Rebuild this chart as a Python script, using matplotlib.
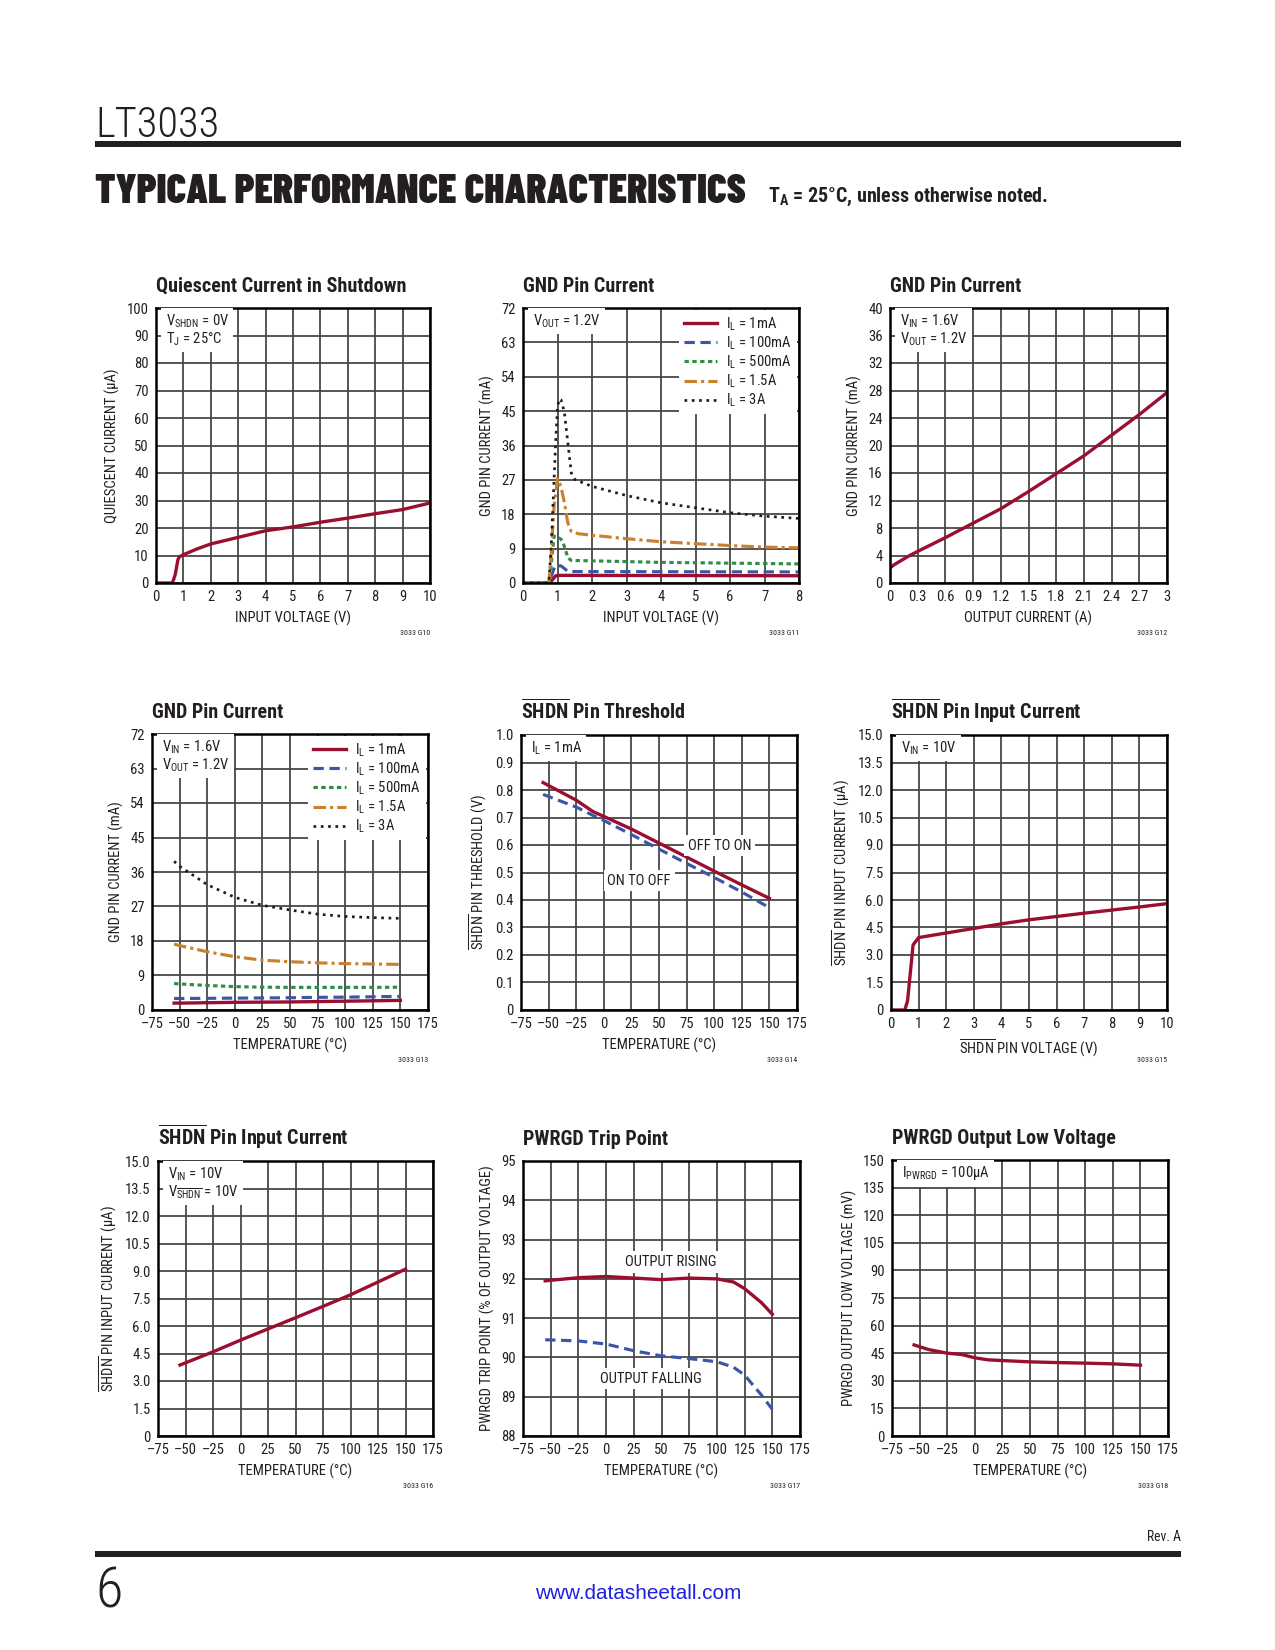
import matplotlib
matplotlib.use("Agg")
import matplotlib.pyplot as plt
from matplotlib import font_manager as fm
from matplotlib.patches import Rectangle

# ---------------- data ----------------
# Quiescent current in shutdown
qs_vin = [0, 0.6, 0.7, 0.8, 0.85, 1.0, 1.5, 2, 3, 4, 5, 6, 7, 8, 9, 10]
qs_iq = [0, 0, 3.0, 8.5, 9.5, 10.3, 12.4, 14.2, 16.6, 19.0, 20.4, 22.1, 23.6, 25.2, 26.7, 29.1]

# GND pin current vs input voltage
gv_vin_1mA = [0, 0.75, 0.85, 0.95, 1.1, 8]
gv_1mA = [0, 0, 0.8, 1.9, 2.0, 1.9]
gv_vin_100mA = [0, 0.75, 0.85, 0.92, 1.1, 1.2, 1.3, 8]
gv_100mA = [0, 0, 2.5, 4.5, 4.5, 3.8, 3.0, 2.9]
gv_vin_500mA = [0, 0.75, 0.82, 0.9, 1.0, 1.1, 1.2, 1.3, 1.4, 2, 3, 4, 5, 6, 7, 8]
gv_500mA = [0, 0, 5.0, 12.3, 12.0, 11.5, 9.6, 6.6, 5.9, 5.8, 5.6, 5.4, 5.3, 5.2, 5.1, 5.0]
gv_vin_1p5A = [0, 0.75, 0.82, 0.9, 1.0, 1.1, 1.2, 1.3, 1.4, 1.6, 2, 3, 4, 5, 6, 7, 8]
gv_1p5A = [0, 0, 8.0, 20.0, 27.3, 25.3, 21.0, 15.7, 13.5, 12.9, 12.5, 11.6, 10.8, 10.3, 9.8, 9.4, 9.2]
gv_vin_3A = [0, 0.75, 0.82, 0.9, 0.95, 1.0, 1.05, 1.1, 1.15, 1.2, 1.3, 1.4, 1.5, 2, 3, 4, 5, 6, 7, 8]
gv_3A = [0, 0, 10.0, 27.0, 37.6, 46.0, 48.2, 48.0, 46.5, 44.6, 36.7, 28.8, 27.1, 25.3, 22.9, 21.0, 19.7, 18.4, 17.5, 16.9]

# GND pin current vs output current
gi_iout = [0, 0.05, 0.1, 0.2, 0.3, 0.6, 0.9, 1.2, 1.5, 1.8, 2.1, 2.4, 2.7, 3.0]
gi_ignd = [2.2, 2.7, 3.1, 3.9, 4.6, 6.6, 8.7, 10.8, 13.3, 15.9, 18.5, 21.5, 24.5, 27.7]

# GND pin current vs temperature
gt_temp = [-55, -50, -25, 0, 25, 50, 75, 100, 125, 150]
gt_1mA = [1.8, 1.8, 1.9, 2.0, 2.05, 2.1, 2.2, 2.3, 2.4, 2.5]
gt_100mA = [3.0, 3.0, 3.05, 3.1, 3.15, 3.2, 3.3, 3.35, 3.45, 3.55]
gt_500mA = [6.9, 6.8, 6.4, 6.1, 5.95, 5.9, 5.9, 5.9, 5.9, 5.95]
gt_1p5A = [17.2, 16.8, 15.2, 13.9, 13.0, 12.6, 12.3, 12.1, 12.0, 11.9]
gt_3A = [38.8, 37.5, 32.7, 29.4, 27.3, 26.1, 25.0, 24.4, 24.1, 23.9]

# SHDN pin threshold
th_temp = [-55, -25, -10, 0, 25, 50, 75, 100, 125, 150]
th_off_on = [0.827, 0.763, 0.722, 0.704, 0.658, 0.607, 0.556, 0.505, 0.455, 0.406]
th_on_off = [0.784, 0.738, 0.708, 0.689, 0.638, 0.585, 0.533, 0.482, 0.429, 0.372]

# SHDN pin input current vs SHDN voltage
sv_v = [0, 0.5, 0.6, 0.8, 1.0, 2, 3, 4, 5, 6, 7, 8, 9, 10]
sv_i = [0, 0, 0.5, 3.55, 3.95, 4.2, 4.45, 4.7, 4.92, 5.1, 5.28, 5.45, 5.62, 5.8]

# SHDN pin input current vs temperature
st_temp = [-55, -25, 0, 25, 50, 75, 100, 125, 150]
st_i = [3.87, 4.59, 5.23, 5.84, 6.45, 7.07, 7.7, 8.4, 9.1]

# PWRGD trip point
pt_temp = [-55, -25, 0, 25, 50, 75, 100, 115, 125, 140, 150]
pt_rising = [91.95, 92.03, 92.06, 92.02, 91.98, 92.02, 92.0, 91.92, 91.75, 91.4, 91.1]
pt_falling = [90.45, 90.42, 90.34, 90.17, 90.04, 89.97, 89.89, 89.75, 89.55, 89.05, 88.68]

# PWRGD output low voltage
pl_temp = [-55, -42, -25, -12, 0, 12, 25, 50, 75, 100, 125, 150]
pl_v = [49.5, 47.0, 45.0, 44.3, 42.5, 41.4, 41.0, 40.3, 39.9, 39.6, 39.2, 38.5]

temp_ticks = [-75, -50, -25, 0, 25, 50, 75, 100, 125, 150, 175]
temp_labels = ["\u201375", "\u201350", "\u201325", "0", "25", "50", "75", "100", "125", "150", "175"]

# ---------------- fonts ----------------
names = {f.name for f in fm.fontManager.ttflist}
def pick(cands):
    for c in cands:
        if c in names:
            return c
    return "DejaVu Sans"
NARROW = pick(["Roboto Condensed", "Liberation Sans Narrow", "Archivo Narrow",
               "DejaVu Sans Condensed", "Liberation Sans"])
HEAVY = pick(["Barlow Condensed", "Asap Condensed", NARROW])
SANS = pick(["Liberation Sans", "DejaVu Sans"])
plt.rcParams["font.family"] = [NARROW, "DejaVu Sans"]
plt.rcParams["mathtext.fontset"] = "custom"
plt.rcParams["mathtext.rm"] = NARROW
plt.rcParams["mathtext.it"] = NARROW + ":italic"
plt.rcParams["mathtext.bf"] = NARROW + ":bold"
plt.rcParams["mathtext.default"] = "regular"

W, H = 1275, 1650
fig = plt.figure(figsize=(8.5, 11), dpi=150)
fig.patch.set_facecolor("white")

def fx(px): return px / W
def fy(py): return 1 - py / H

RED = "#9a0f30"
BLUE = "#3b56a6"
GREEN = "#2e8e46"
ORANGE = "#c9812e"
BLK = "#1e1e1e"
GRID = "#444444"
TXT = "#231f20"
TS = 7.0
MU = "\u00b5"

STY = {
    "1mA": dict(color=RED, lw=1.6, ls="-"),
    "100mA": dict(color=BLUE, lw=1.5, ls=(0, (3.3, 1.8))),
    "500mA": dict(color=GREEN, lw=1.5, ls=(0, (1.4, 1.1))),
    "1.5A": dict(color=ORANGE, lw=1.5, ls=(0, (4.0, 1.3, 1.0, 1.3))),
    "3A": dict(color=BLK, lw=1.3, ls=(0, (1.0, 1.7))),
}

def add_axes(L, R, T, B):
    return fig.add_axes([fx(L), fy(B), (R - L) / W, (B - T) / H])

def setup(ax, xlim, xticks, xlabels, ylim, yticks, ylabels, xlabel, ylabel, title, code):
    ax.set_xlim(*xlim)
    ax.set_ylim(*ylim)
    ax.set_xticks(xticks)
    ax.set_xticklabels(xlabels)
    ax.set_yticks(yticks)
    ax.set_yticklabels(ylabels)
    ax.tick_params(length=0, pad=3.5, labelsize=TS, colors=TXT)
    ax.grid(True, color=GRID, lw=0.85)
    ax.set_axisbelow(True)
    for s in ax.spines.values():
        s.set_linewidth(1.2)
        s.set_color("black")
    ax.set_xlabel(xlabel, fontsize=TS, labelpad=3, color=TXT)
    ax.set_ylabel(ylabel, fontsize=TS, labelpad=3, color=TXT)
    ax.annotate(title, xy=(0, 1), xycoords="axes fraction", xytext=(0, 7.7),
                textcoords="offset points", ha="left", va="baseline",
                fontsize=9.7, fontweight="bold", color=TXT)
    ax.annotate(code, xy=(1, 0), xycoords="axes fraction", xytext=(0, -24),
                textcoords="offset points", ha="right", va="center",
                fontsize=3.8, color=TXT)

def note(ax, x, y, s, ha="left", va="top"):
    ax.text(x, y, s, transform=ax.transAxes, ha=ha, va=va, fontsize=TS, color=TXT,
            linespacing=1.05, zorder=4,
            bbox=dict(boxstyle="square,pad=0.3", fc="white", ec="none"))

def label(ax, x, y, s):
    ax.text(x, y, s, ha="center", va="center", fontsize=TS, color=TXT, zorder=4,
            bbox=dict(boxstyle="square,pad=0.25", fc="white", ec="none"))

def legend(ax):
    lg = ax.legend(loc="upper right", fontsize=TS, frameon=True, fancybox=False,
                   handlelength=2.3, handletextpad=0.6, labelspacing=0.12,
                   borderaxespad=0.15, borderpad=0.35)
    lg.get_frame().set_facecolor("white")
    lg.get_frame().set_edgecolor("none")
    lg.get_frame().set_alpha(1)
    for t in lg.get_texts():
        t.set_color(TXT)

# ---------- row 1 ----------
ax1 = add_axes(156, 430, 308, 583)
ax1.plot(qs_vin, qs_iq, color=RED, lw=1.6)
setup(ax1, (0, 10), range(0, 11), [str(i) for i in range(11)],
      (0, 100), range(0, 101, 10), [str(i) for i in range(0, 101, 10)],
      "INPUT VOLTAGE (V)", "QUIESCENT CURRENT (" + MU + "A)",
      "Quiescent Current in Shutdown", "3033 G10")
note(ax1, 0.035, 0.985, "V$_{SHDN}$ = 0V\nT$_{J}$ = 25\u00b0C")

ax2 = add_axes(523, 799, 308, 583)
ax2.plot(gv_vin_1mA, gv_1mA, label="I$_{L}$ = 1mA", **STY["1mA"])
ax2.plot(gv_vin_100mA, gv_100mA, label="I$_{L}$ = 100mA", **STY["100mA"])
ax2.plot(gv_vin_500mA, gv_500mA, label="I$_{L}$ = 500mA", **STY["500mA"])
ax2.plot(gv_vin_1p5A, gv_1p5A, label="I$_{L}$ = 1.5A", **STY["1.5A"])
ax2.plot(gv_vin_3A, gv_3A, label="I$_{L}$ = 3A", **STY["3A"])
setup(ax2, (0, 8), range(0, 9), [str(i) for i in range(9)],
      (0, 72), range(0, 73, 9), [str(i) for i in range(0, 73, 9)],
      "INPUT VOLTAGE (V)", "GND PIN CURRENT (mA)", "GND Pin Current", "3033 G11")
note(ax2, 0.035, 0.985, "V$_{OUT}$ = 1.2V")
legend(ax2)

ax3 = add_axes(890, 1167, 308, 583)
ax3.plot(gi_iout, gi_ignd, color=RED, lw=1.6)
xt3 = [0, 0.3, 0.6, 0.9, 1.2, 1.5, 1.8, 2.1, 2.4, 2.7, 3.0]
setup(ax3, (0, 3), xt3, ["0", "0.3", "0.6", "0.9", "1.2", "1.5", "1.8", "2.1", "2.4", "2.7", "3"],
      (0, 40), range(0, 41, 4), [str(i) for i in range(0, 41, 4)],
      "OUTPUT CURRENT (A)", "GND PIN CURRENT (mA)", "GND Pin Current", "3033 G12")
note(ax3, 0.035, 0.985, "V$_{IN}$ = 1.6V\nV$_{OUT}$ = 1.2V")

# ---------- row 2 ----------
ax4 = add_axes(152, 428, 734, 1010)
ax4.plot(gt_temp, gt_1mA, label="I$_{L}$ = 1mA", **STY["1mA"])
ax4.plot(gt_temp, gt_100mA, label="I$_{L}$ = 100mA", **STY["100mA"])
ax4.plot(gt_temp, gt_500mA, label="I$_{L}$ = 500mA", **STY["500mA"])
ax4.plot(gt_temp, gt_1p5A, label="I$_{L}$ = 1.5A", **STY["1.5A"])
ax4.plot(gt_temp, gt_3A, label="I$_{L}$ = 3A", **STY["3A"])
setup(ax4, (-75, 175), temp_ticks, temp_labels,
      (0, 72), range(0, 73, 9), [str(i) for i in range(0, 73, 9)],
      "TEMPERATURE (\u00b0C)", "GND PIN CURRENT (mA)", "GND Pin Current", "3033 G13")
note(ax4, 0.035, 0.985, "V$_{IN}$ = 1.6V\nV$_{OUT}$ = 1.2V")
legend(ax4)

ax5 = add_axes(521, 797, 735, 1010)
ax5.plot(th_temp, th_off_on, color=RED, lw=1.6)
ax5.plot(th_temp, th_on_off, color=BLUE, lw=1.5, ls=(0, (3.3, 1.8)))
y5 = [i / 10 for i in range(11)]
setup(ax5, (-75, 175), temp_ticks, temp_labels,
      (0, 1.0), y5, ["0"] + ["%.1f" % v for v in y5[1:]],
      "TEMPERATURE (\u00b0C)", r"$\overline{SHDN}$ PIN THRESHOLD (V)",
      r"$\overline{SHDN}$ Pin Threshold", "3033 G14")
note(ax5, 0.035, 0.985, "I$_{L}$ = 1mA")
label(ax5, 105, 0.598, "OFF TO ON")
label(ax5, 32, 0.47, "ON TO OFF")

y15 = [i * 1.5 for i in range(11)]
y15_labels = ["0"] + ["%.1f" % v for v in y15[1:]]
ax6 = add_axes(891, 1167, 735, 1010)
ax6.plot(sv_v, sv_i, color=RED, lw=1.6)
setup(ax6, (0, 10), range(0, 11), [str(i) for i in range(11)],
      (0, 15), y15, y15_labels,
      r"$\overline{SHDN}$ PIN VOLTAGE (V)", r"$\overline{SHDN}$ PIN INPUT CURRENT (" + MU + "A)",
      r"$\overline{SHDN}$ Pin Input Current", "3033 G15")
note(ax6, 0.035, 0.985, "V$_{IN}$ = 10V")

# ---------- row 3 ----------
ax7 = add_axes(158, 433, 1161, 1436)
ax7.plot(st_temp, st_i, color=RED, lw=1.6)
setup(ax7, (-75, 175), temp_ticks, temp_labels,
      (0, 15), y15, y15_labels,
      "TEMPERATURE (\u00b0C)", r"$\overline{SHDN}$ PIN INPUT CURRENT (" + MU + "A)",
      r"$\overline{SHDN}$ Pin Input Current", "3033 G16")
note(ax7, 0.035, 0.985, "V$_{IN}$ = 10V\nV$_{\\overline{SHDN}}$ = 10V")

ax8 = add_axes(523, 800, 1161, 1436)
ax8.plot(pt_temp, pt_rising, color=RED, lw=1.6)
ax8.plot(pt_temp, pt_falling, color=BLUE, lw=1.5, ls=(0, (3.3, 1.8)))
setup(ax8, (-75, 175), temp_ticks, temp_labels,
      (88, 95), range(88, 96), [str(i) for i in range(88, 96)],
      "TEMPERATURE (\u00b0C)", "PWRGD TRIP POINT (% OF OUTPUT VOLTAGE)",
      "PWRGD Trip Point", "3033 G17")
label(ax8, 58, 92.43, "OUTPUT RISING")
label(ax8, 40, 89.46, "OUTPUT FALLING")

ax9 = add_axes(892, 1168, 1160, 1436)
ax9.plot(pl_temp, pl_v, color=RED, lw=1.6)
setup(ax9, (-75, 175), temp_ticks, temp_labels,
      (0, 150), range(0, 151, 15), [str(i) for i in range(0, 151, 15)],
      "TEMPERATURE (\u00b0C)", "PWRGD OUTPUT LOW VOLTAGE (mV)",
      "PWRGD Output Low Voltage", "3033 G18")
note(ax9, 0.035, 0.985, "I$_{PWRGD}$ = 100" + MU + "A")

# ---------------- page furniture ----------------
r = fig.canvas.get_renderer()
def fit_text(xp, yp, s, target_w, size0, **kw):
    t = fig.text(fx(xp), fy(yp), s, fontsize=size0, **kw)
    w = t.get_window_extent(r).width
    t.set_fontsize(size0 * target_w / w)
    return t

fit_text(95, 137, "LT3033", 124, 21, ha="left", va="baseline", color=TXT, fontweight="light")
fig.add_artist(Rectangle((fx(95), fy(147)), (1181 - 95) / W, 6 / H,
                         transform=fig.transFigure, fc=TXT, ec="none"))
fit_text(95, 203, "TYPICAL PERFORMANCE CHARACTERISTICS", 649, 19,
         ha="left", va="baseline", color=TXT, fontweight="black", family=[HEAVY, "DejaVu Sans"])
fit_text(768, 202, "T$_{A}$ = 25\u00b0C, unless otherwise noted.", 281, 9,
         ha="left", va="baseline", color=TXT, fontweight="bold")

fit_text(1181, 1541, "Rev. A", 34, 6, ha="right", va="baseline", color=TXT)
fig.add_artist(Rectangle((fx(95), fy(1557)), (1181 - 95) / W, 6 / H,
                         transform=fig.transFigure, fc=TXT, ec="none"))
fig.text(fx(95), fy(1608), "6", fontsize=27, ha="left", va="baseline", color=TXT,
         fontweight="light")
fit_text(638, 1599, "www.datasheetall.com", 207, 10, ha="center", va="baseline",
         color="#1f1fe0", family=[SANS, "DejaVu Sans"])

fig.savefig("out.png", dpi=150, facecolor="white")
